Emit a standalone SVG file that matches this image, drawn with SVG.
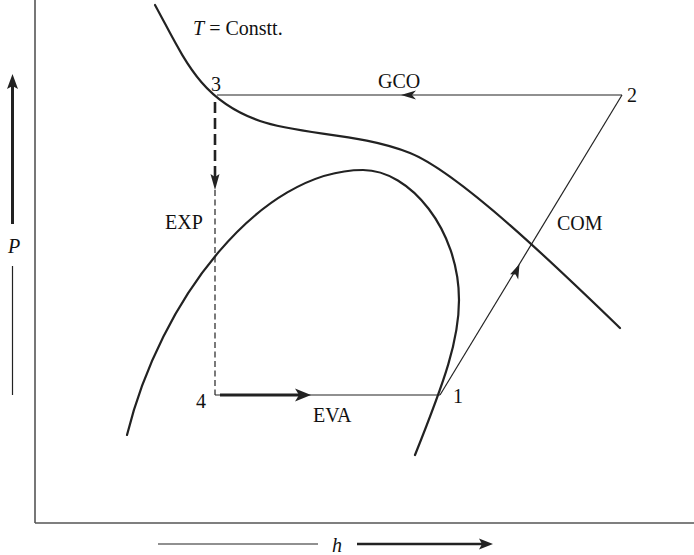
<svg xmlns="http://www.w3.org/2000/svg" width="694" height="555" viewBox="0 0 694 555">
<style>
.axis{stroke:#555;stroke-width:1.6;fill:none}
.curve{stroke:#222;stroke-width:2.2;fill:none;stroke-linecap:round}
.thin{stroke:#222;stroke-width:1.2;fill:none}
.thick{stroke:#222;stroke-width:3.2;fill:none}
.head{fill:#222;stroke:none}
text{font-family:"Liberation Serif","Times New Roman",serif;font-size:20px;fill:#111}
.it{font-style:italic}
</style>
<rect width="694" height="555" fill="#fff"/>
<g id="axes">
<line class="axis" x1="35" y1="0" x2="35" y2="523"/>
<line class="axis" x1="35" y1="523" x2="694" y2="523"/>
<line x1="12.5" y1="224" x2="12.5" y2="86" stroke="#222" stroke-width="3"/>
<path class="head" d="M12.5,74 L18,89 L12.5,86 L7,89 Z"/>
<text class="it" x="14" y="253" text-anchor="middle">P</text>
<line class="thin" x1="12.5" y1="266" x2="12.5" y2="395"/>
<line class="thin" x1="158" y1="544" x2="318" y2="544"/>
<text class="it" x="337" y="552" text-anchor="middle">h</text>
<line x1="357" y1="544" x2="482" y2="544" stroke="#222" stroke-width="2.6"/>
<path class="head" d="M493,544 L479,538.5 L482,544 L479,549.5 Z"/>
</g>
<g id="isotherm">
<path class="curve" d="M155,5 C185,60 200,100 260,121 C300,135 360,133 410,153 C460,173 560,270 620,328"/>
<text x="193" y="35"><tspan class="it">T</tspan> = Constt.</text>
</g>
<g id="dome">
<path class="curve" d="M127,435 C160,300 260,170 363,170 C410,170 459,230 459,300 C459,340 445,380 415,455"/>
</g>
<g id="connectors">
<g id="GCO">
<line class="thin" x1="217" y1="95" x2="622" y2="95"/>
<path class="head" d="M401,95 L416,90.5 L412,95 L416,99.5 Z"/>
</g>
<g id="EXP">
<line x1="215" y1="102" x2="215" y2="178" stroke="#222" stroke-width="2.6" stroke-dasharray="11,5"/>
<path class="head" d="M215,190 L210.5,174 L215,177 L219.5,174 Z"/>
<line class="thin" x1="215" y1="190" x2="215" y2="395" stroke-dasharray="6,3.5"/>
</g>
<g id="EVA">
<line class="thin" x1="215" y1="395" x2="440" y2="395"/>
<line class="thick" x1="220" y1="395" x2="300" y2="395"/>
<path class="head" d="M311,395 L295,388.5 L299,395 L295,401.5 Z"/>
</g>
<g id="COM">
<line class="thin" x1="440" y1="395" x2="622" y2="95"/>
<path class="head" d="M519.5,264 L518.2,279.6 L515.6,274.4 L510.1,274.3 Z"/>
</g>
</g>
<g id="node1"><text x="453" y="403">1</text></g>
<g id="node2"><text x="627" y="102">2</text></g>
<g id="node3"><text x="211" y="91">3</text></g>
<g id="node4"><text x="196" y="408">4</text></g>
<g id="labels">
<text x="378" y="88">GCO</text>
<text x="557" y="230">COM</text>
<text x="165" y="229">EXP</text>
<text x="313" y="422">EVA</text>
</g>
</svg>
